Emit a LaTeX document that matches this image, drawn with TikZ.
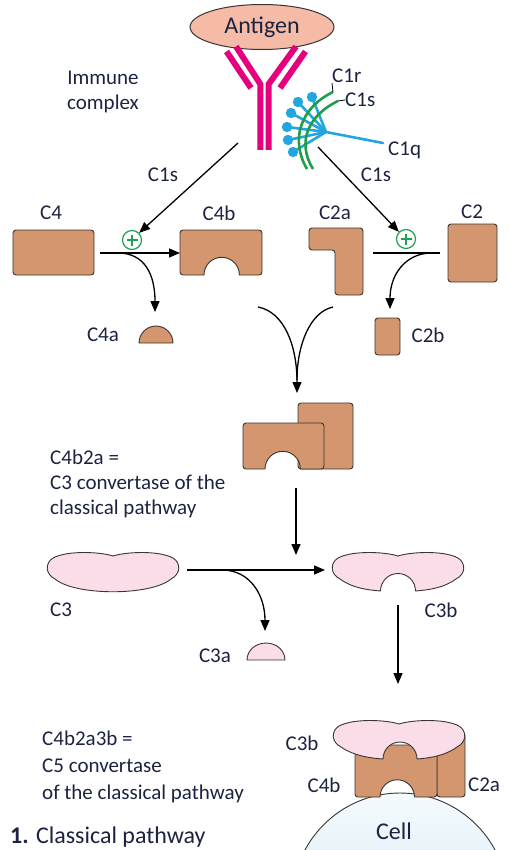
\documentclass[tikz,border=0pt]{standalone}
\usepackage{fontspec}
\setmainfont{Carlito}
\usetikzlibrary{arrows.meta,shapes.geometric}

\definecolor{ink}{HTML}{1C2340}
\definecolor{outline}{HTML}{3A3530}
\definecolor{brownfill}{HTML}{D4966E}
\definecolor{c3pink}{HTML}{FADDE9}
\definecolor{antigenfill}{HTML}{F6BBA6}
\definecolor{abmagenta}{HTML}{E5007D}
\definecolor{c1qblue}{HTML}{22A6E0}
\definecolor{c1green}{HTML}{1E9E4A}
\definecolor{plusgreen}{HTML}{1FA055}
\definecolor{celltop}{HTML}{F4FAFD}
\definecolor{cellbottom}{HTML}{C8E6F4}

\tikzset{
  part/.style={fill=brownfill, draw=outline, line width=0.9pt, line join=round},
  c3part/.style={fill=c3pink, draw=outline, line width=0.9pt, line join=round},
  flow/.style={draw=black, line width=1.3pt, -{Triangle[length=11pt,width=9pt]}},
  plainline/.style={draw=black, line width=1.3pt},
  leader/.style={draw=black, line width=0.8pt},
  lbl/.style={font=\fontsize{21}{25}\selectfont, text=ink, inner sep=0pt},
  biglbl/.style={font=\fontsize{24}{28}\selectfont, text=ink, inner sep=0pt},
  chain/.style={draw=abmagenta, line width=6pt, line join=miter},
  c1qline/.style={draw=c1qblue, line width=2.6pt, line cap=round},
  c1arc/.style={draw=c1green, line width=2.6pt},
  plusmark/.style={circle, draw=plusgreen, fill=white, line width=1.2pt,
    minimum size=19pt, inner sep=0pt,
    path picture={\draw[plusgreen, line width=2.2pt]
      ([xshift=-5.5pt]path picture bounding box.center) -- ([xshift=5.5pt]path picture bounding box.center)
      ([yshift=-5.5pt]path picture bounding box.center) -- ([yshift=5.5pt]path picture bounding box.center);}},
}

\begin{document}
\begin{tikzpicture}[x=1pt,y=-1pt]
\useasboundingbox (0,0) rectangle (510,850);

% ---------- immune complex ----------
\node[ellipse, draw=outline, fill=antigenfill, line width=1pt,
      minimum width=144pt, minimum height=45pt, biglbl] (antigen) at (262,27) {Antigen};

% antibody: heavy chains run into the stem, light chains sit outside the arms
\draw[chain] (236,46.5) -- (260.3,84) -- (260.3,150);
\draw[chain] (296,46.5) -- (268.7,84) -- (268.7,150);
\draw[chain] (226.5,51.5) -- (251,88);
\draw[chain] (305.5,51.5) -- (280,88);

\node[lbl, align=center] (immune) at (103,92) {Immune\\complex};

% C1q: stalks with globular heads
\coordinate (hub) at (326,132);
\coordinate (c1qend) at (383,143);
\foreach \hx/\hy [count=\i] in {312/97,298/102,291/113,287/127,288/140,293/152} {
  \coordinate (head\i) at (\hx,\hy);
  \draw[c1qline] (hub) -- (head\i);
  \fill[c1qblue] (head\i) circle[radius=5.2pt];
}
\draw[c1qline] (hub) -- (c1qend);

% C1r and C1s
\coordinate (c1rtop) at (333,92);
\coordinate (c1stop) at (338,101);
\draw[c1arc] (c1rtop) .. controls (300,108) and (290,140) .. (307,169);
\draw[c1arc] (c1stop) .. controls (307,116) and (297,143) .. (313,169);

\node[lbl, anchor=south west] (c1rlbl) at (332,83) {C1r};
\node[lbl, anchor=west] (c1slbl) at (345,100) {C1s};
\node[lbl, anchor=west] (c1qlbl) at (388,150) {C1q};
\draw[leader] (c1rtop) -- (c1rlbl.south west);
\draw[leader] (c1stop) -- (c1slbl.west);

% ---------- C1s cleaves C4 and C2 ----------
\coordinate (c1sL) at (238,143);
\coordinate (c1sR) at (318,147);
\node[plusmark] (plusL) at (132,240) {};
\node[plusmark] (plusR) at (406,239) {};
\draw[flow] (c1sL) -- (plusL.north east);
\draw[flow] (c1sR) -- (plusR.north west);
\node[lbl] (c1sLlbl) at (163,175) {C1s};
\node[lbl] (c1sRlbl) at (376,175) {C1s};

% C4
\node[part, rectangle, rounded corners=3pt, minimum width=81pt, minimum height=45pt] (c4) at (53.5,252.5) {};
\node[lbl] (c4lbl) at (51,213) {C4};
% C4b with its binding notch
\draw[part] [rounded corners=3pt] (239.5,275) -- (262,275) -- (262,230) -- (180,230) -- (180,275) [sharp corners] -- (204,275)
  arc[start angle=180, end angle=0, radius=17.7pt] -- (239.5,275);
\coordinate (c4b) at (180,253);
\node[lbl] (c4blbl) at (219,213) {C4b};
% C4a fragment
\draw[part] (139,343) arc[start angle=180, end angle=0, radius=17pt] -- cycle;
\coordinate (c4a) at (155,312);
\node[lbl] (c4albl) at (103,335) {C4a};

\coordinate (c4out) at (100,253);
\coordinate (c4split) at (118,253);
\draw[flow] (c4out) -- (c4b);
\draw[flow] (c4split) .. controls (145,253) and (155,275) .. (c4a);

% C2a
\draw[part, rounded corners=3pt] (309,228) -- (363,228) -- (363,295) -- (335,295) -- (335,250) -- (309,250) -- cycle;
\node[lbl] (c2albl) at (335,213) {C2a};
% C2
\node[part, rectangle, rounded corners=3pt, minimum width=49pt, minimum height=58pt] (c2) at (472.5,253) {};
\node[lbl] (c2lbl) at (472,212) {C2};
% C2b
\node[part, rectangle, rounded corners=3pt, minimum width=25pt, minimum height=37pt] (c2b) at (387.5,336.5) {};
\node[lbl] (c2blbl) at (428,335) {C2b};

\coordinate (c2in) at (440,253);
\coordinate (c2end) at (373,253);
\coordinate (c2split) at (430,253);
\coordinate (c2btip) at (390,309);
\draw[plainline] (c2in) -- (c2end);
\draw[flow] (c2split) .. controls (405,254) and (390,275) .. (c2btip);

% ---------- assembly of C4b2a ----------
\coordinate (joinL) at (258,307);
\coordinate (joinR) at (333,307);
\coordinate (joinTip) at (297,393);
\draw[plainline] (joinR) .. controls (310,312) and (297,345) .. (297,380);
\draw[flow] (joinL) .. controls (284,312) and (297,345) .. (joinTip);

% C4b2a: C2a block behind C4b block
\draw[part, rounded corners=3pt] (298,403) rectangle (353,469);
\draw[part] [rounded corners=3pt] (300.5,469) -- (324,469) -- (324,423) -- (243,423) -- (243,469) [sharp corners] -- (265,469)
  arc[start angle=180, end angle=0, radius=17.7pt] -- (300.5,469);
\coordinate (c3convOut) at (296,488);
\coordinate (c3convTip) at (296,555);
\draw[flow] (c3convOut) -- (c3convTip);

\node[lbl, align=left, anchor=north west] (c3conv) at (50,450) {C4b2a =\\C3 convertase of the\\classical pathway};

% ---------- cleavage of C3 ----------
\draw[c3part] (113,556) .. controls (101,552) and (68,550) .. (53,558)
  .. controls (45,563) and (45,574) .. (55,579)
  .. controls (75,596) and (151,596) .. (171,579)
  .. controls (181,574) and (181,563) .. (173,558)
  .. controls (158,550) and (125,552) .. (113,556) -- cycle;
\node[lbl] (c3lbl) at (61,610) {C3};

\draw[c3part] (398,556) .. controls (386,552) and (353,550) .. (338,558)
  .. controls (330,563) and (330,574) .. (340,579)
  .. controls (352,588) and (368,590) .. (380.5,591)
  arc[start angle=180, end angle=0, radius=17.5pt]
  .. controls (428,590) and (444,588) .. (456,579)
  .. controls (466,574) and (466,563) .. (458,558)
  .. controls (443,550) and (410,552) .. (398,556) -- cycle;
\node[lbl] (c3blbl) at (441,610) {C3b};

\draw[c3part] (247,660) arc[start angle=180, end angle=0, x radius=19pt, y radius=17pt] -- cycle;
\node[lbl] (c3albl) at (215,656) {C3a};

\coordinate (c3out) at (187,570);
\coordinate (c3bin) at (325,570);
\coordinate (c3split) at (222,570);
\coordinate (c3atip) at (265,631);
\draw[flow] (c3out) -- (c3bin);
\draw[flow] (c3split) .. controls (250,570) and (265,595) .. (c3atip);

\coordinate (c3bout) at (398,605);
\coordinate (c5tip) at (398,684);
\draw[flow] (c3bout) -- (c5tip);

% ---------- C5 convertase on the cell ----------
\draw[outline, line width=0.9pt, top color=celltop, bottom color=cellbottom]
  (400,900.7) circle[radius=107.7pt];
\node[biglbl] (cell) at (394,831) {Cell};

% C2a (right) and C4b (left) bound to the membrane
\draw[part, rounded corners=3pt] (437,733) rectangle (465,797);
\draw[part] [rounded corners=3pt] (414.5,797) -- (437,797) -- (437,745) -- (355,745) -- (355,797) [sharp corners] -- (380,797)
  arc[start angle=180, end angle=0, radius=17.25pt] -- (414.5,797);
% C3b on top
\draw[c3part] (399,724) .. controls (387,720) and (354,718) .. (339,726)
  .. controls (331,731) and (331,742) .. (341,747)
  .. controls (354,756) and (370,758) .. (383,759)
  arc[start angle=180, end angle=0, radius=17pt]
  .. controls (429,758) and (445,756) .. (457,747)
  .. controls (467,742) and (467,731) .. (459,726)
  .. controls (444,718) and (411,720) .. (399,724) -- cycle;

\node[lbl] (c3bcell) at (302,743) {C3b};
\node[lbl] (c4bcell) at (324,785) {C4b};
\node[lbl] (c2acell) at (484,785) {C2a};

\node[lbl, align=left, anchor=north west, font=\fontsize{21}{27}\selectfont] (c5conv) at (42,731) {C4b2a3b =\\C5 convertase\\of the classical pathway};

\node[biglbl, anchor=base west] (title) at (10,843)
  {\textbf{1.} Classical pathway};
\end{tikzpicture}
\end{document}
